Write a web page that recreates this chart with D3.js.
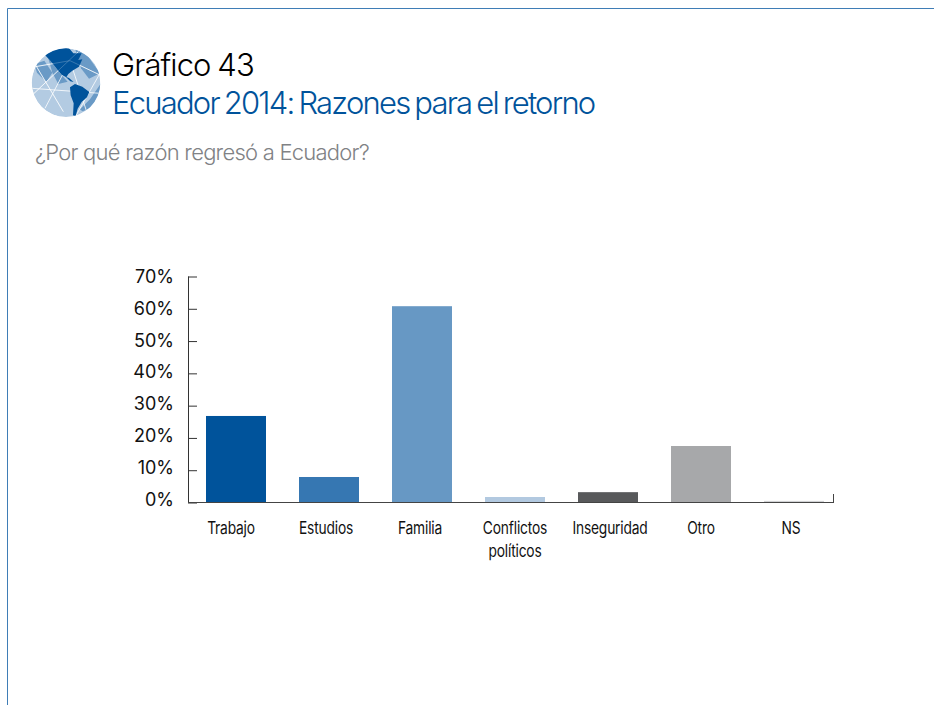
<!DOCTYPE html>
<html><head><meta charset="utf-8">
<script src="https://cdn.jsdelivr.net/npm/d3@7/dist/d3.min.js"></script>
<style>html,body{margin:0;padding:0;background:#fff}svg{display:block}text{font-family:Inter,sans-serif}</style>
</head><body><div id="c"></div>
<script>
const categories = ["Trabajo","Estudios","Familia","Conflictos políticos","Inseguridad","Otro","NS"];
const values = [26.8,7.9,60.8,1.7,3.2,17.5,0.5];
const barColors = ["#00539b","#3677b2","#6798c4","#b2c9e0","#58595b","#a7a8aa","#d1d2d4"];
const yTicks = [0,10,20,30,40,50,60,70];
const titleLine1 = "Gráfico 43", titleLine2 = "Ecuador 2014: Razones para el retorno", subtitle = "¿Por qué razón regresó a Ecuador?";

const svg = d3.select("#c").append("svg").attr("width",934).attr("height",705);
svg.append("path").attr("d","M7.5,705V8.5H934").attr("fill","none").attr("stroke","#3f7db6").attr("stroke-width",1);

// globe emblem
const defs = svg.append("defs");
defs.append("clipPath").attr("id","gc").append("circle").attr("cx",123).attr("cy",128).attr("r",103);
const g = svg.append("g").attr("transform","translate(25,40) scale(0.3333)");
const gi = g.append("g").attr("clip-path","url(#gc)");
const line = d3.line().curve(d3.curveLinearClosed);
gi.append("circle").attr("cx",123).attr("cy",128).attr("r",103).attr("fill","#b3cbe2");
const mid = [
 [[28,72],[58,62],[82,98],[64,126],[36,98]],
 [[70,55],[105,100],[128,125],[100,132],[82,98]],
 [[150,25],[190,50],[225,100],[192,116],[168,85]],
 [[165,208],[195,178],[228,130],[226,165],[200,205],[172,214]]
];
const dark = [
 [[60,45],[85,28],[130,22],[145,40],[170,40],[160,60],[172,58],[162,80],[142,92],[130,102],[124,112],[110,104],[98,90],[84,72],[74,60]],
 [[122,110],[132,114],[146,126],[136,124]],
 [[135,142],[150,132],[172,140],[193,156],[186,172],[170,186],[158,206],[152,228],[144,226],[146,190],[137,166]]
];
const wires = [[[20,82],[135,62],[225,105]],[[30,72],[115,215]],[[22,165],[160,35]],[[60,205],[135,62]],[[135,62],[190,230]],[[225,100],[150,232]],[[22,145],[225,160]]];
gi.selectAll(".m").data(mid).join("path").attr("d",line).attr("fill","#6a9ac6");
gi.selectAll(".w").data(wires).join("path").attr("d",d3.line()).attr("fill","none").attr("stroke","#fff").attr("stroke-width",2.4);
gi.selectAll(".d").data(dark).join("path").attr("d",line).attr("fill","#00539b");
gi.selectAll(".w2").data(wires.slice(0,3)).join("path").attr("d",d3.line()).attr("fill","none").attr("stroke","#fff").attr("stroke-width",1.2).attr("stroke-opacity",0.55);

// titles
svg.append("text").attr("x",112).attr("y",76).attr("font-size",31).attr("font-weight",300).attr("letter-spacing",-0.9).attr("word-spacing",-1).attr("fill","#000").text(titleLine1);
svg.append("text").attr("x",112).attr("y",114).attr("font-size",31).attr("font-weight",300).attr("letter-spacing",-1.78).attr("word-spacing",-2).attr("fill","#00539b").text(titleLine2);
svg.append("text").attr("x",35).attr("y",160).attr("font-size",22).attr("font-weight",300).attr("letter-spacing",-0.76).attr("fill","#808285").text(subtitle);

// scales
const x = d3.scaleBand().domain(categories).range([189.5,840.5]).paddingInner(33/93).paddingOuter(33/186);
const y = d3.scaleLinear().domain([0,70]).range([502.5,276.5]);

// bars
svg.selectAll(".bar").data(values).join("rect").attr("class","bar")
 .attr("x",(d,i)=>x(categories[i])).attr("width",x.bandwidth())
 .attr("y",d=>y(d)).attr("height",d=>y(0)-y(d)).attr("fill",(d,i)=>barColors[i]);

// y axis
const ya = svg.append("g").attr("transform","translate(188,0)").call(d3.axisLeft(y).tickValues(yTicks).tickSize(-9).tickFormat(d=>d+"%"));
ya.selectAll("line").attr("stroke","#333");
ya.select(".domain").attr("stroke","#333").attr("d","M0.5,276.5V502.5");
ya.selectAll("text").attr("x",-14).attr("dy",d=>(0.36*18-0.45*(70-d)/10-0.5)+"px").attr("font-size",18).attr("font-weight",400).attr("fill","#111").style("font-family","Inter,sans-serif");

// baseline & end tick
svg.append("path").attr("d","M188,502.5H834M833.5,494V503").attr("fill","none").attr("stroke","#444").attr("stroke-width",1);

// category labels (condensed horizontally as in the reference)
const labelNudge = [-5,-3,-2,0,2,0,-3];
const labels = svg.selectAll(".lab").data(categories).join("text").attr("class","lab")
 .attr("text-anchor","middle").attr("font-size",17).attr("letter-spacing",-0.2).attr("fill","#111")
 .attr("transform",(d,i)=>`translate(${x(d)+x.bandwidth()/2+labelNudge[i]},534) scale(0.81,1)`);
labels.each(function(d){
  const parts = d.split(" ");
  d3.select(this).selectAll("tspan").data(parts).join("tspan").attr("x",0).attr("dy",(p,i)=>i?23:0).text(p=>p);
});
</script></body></html>
